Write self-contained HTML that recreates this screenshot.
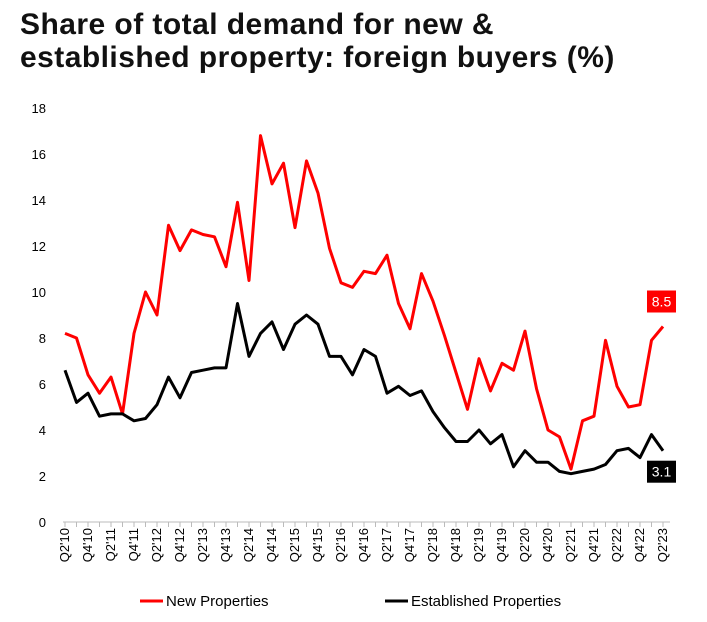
<!DOCTYPE html>
<html><head><meta charset="utf-8"><style>
body{margin:0;background:#fff;font-family:"Liberation Sans",sans-serif;}
#t{position:absolute;left:20px;top:8px;font-size:30px;font-weight:bold;line-height:33px;color:#111;letter-spacing:0.45px}
</style></head><body>
<div id="t">Share of total demand for new &amp;<br>established property: foreign buyers (%)</div>
<svg id="c" width="707" height="622" style="position:absolute;left:0;top:0"></svg>
<script>
const quarters=[];for(let y=10;y<=23;y++)for(const q of [1,2,3,4]){if(y===10&&q<2)continue;if(y===23&&q>2)continue;quarters.push('Q'+q+"'"+y);}
const newProps=[8.2,8.0,6.4,5.6,6.3,4.7,8.2,10.0,9.0,12.9,11.8,12.7,12.5,12.4,11.1,13.9,10.5,16.8,14.7,15.6,12.8,15.7,14.3,11.9,10.4,10.2,10.9,10.8,11.6,9.5,8.4,10.8,9.6,8.1,6.5,4.9,7.1,5.7,6.9,6.6,8.3,5.8,4.0,3.7,2.3,4.4,4.6,7.9,5.9,5.0,5.1,7.9,8.5];
const estProps=[6.6,5.2,5.6,4.6,4.7,4.7,4.4,4.5,5.1,6.3,5.4,6.5,6.6,6.7,6.7,9.5,7.2,8.2,8.7,7.5,8.6,9.0,8.6,7.2,7.2,6.4,7.5,7.2,5.6,5.9,5.5,5.7,4.8,4.1,3.5,3.5,4.0,3.4,3.8,2.4,3.1,2.6,2.6,2.2,2.1,2.2,2.3,2.5,3.1,3.2,2.8,3.8,3.1];
const yTicks=[0,2,4,6,8,10,12,14,16,18];
const svg=document.getElementById('c');const NS='http://www.w3.org/2000/svg';
const X=i=>65+i*(598/(quarters.length-1));const Y=v=>522-v*23;
function mk(t,a,txt){const e=document.createElementNS(NS,t);for(const k in a)e.setAttribute(k,a[k]);if(txt!==undefined)e.textContent=txt;svg.appendChild(e);return e;}
yTicks.forEach(v=>{const e=mk('text',{x:46,y:Y(v)+5,'text-anchor':'end','font-size':13,fill:'#000'},v);

});
const ax=mk('line',{x1:63,x2:670,y1:522,y2:522,stroke:'#bbb','stroke-width':1});


quarters.forEach((q,i)=>{const t=mk('line',{x1:X(i),x2:X(i),y1:522,y2:527,stroke:'#bbb'});


if(i%2===0){const e=mk('text',{x:0,y:0,transform:`translate(${X(i)+4},528) rotate(-90)`,'text-anchor':'end','font-size':13,fill:'#000'},q);

}});
function line(d,col,name){const p=mk('polyline',{points:d.map((v,i)=>X(i)+','+Y(v)).join(' '),fill:'none',stroke:col,'stroke-width':3,'stroke-linejoin':'round'});

}
line(newProps,'#ff0000','new-properties-line');line(estProps,'#000','established-properties-line');
function lab(v,col,y,name){const n=quarters.length-1;const r=mk('rect',{x:X(n)-16,y:y,width:29,height:22,fill:col});


const t=mk('text',{x:X(n)-1.5,y:y+16,'text-anchor':'middle','font-size':14,fill:'#fff'},v);

}
lab(newProps[newProps.length-1],'#ff0000',Y(newProps[newProps.length-1])-36,'new-last-value');
lab(estProps[estProps.length-1],'#000',Y(estProps[estProps.length-1])+10,'est-last-value');
[[140,'#ff0000','New Properties','legend-new'],[385,'#000','Established Properties','legend-established']].forEach(([x,c,s,n])=>{
const l=mk('line',{x1:x,x2:x+23,y1:601,y2:601,stroke:c,'stroke-width':3});


const t=mk('text',{x:x+26,y:606,'font-size':15,fill:'#000'},s);

});
</script></body></html>
